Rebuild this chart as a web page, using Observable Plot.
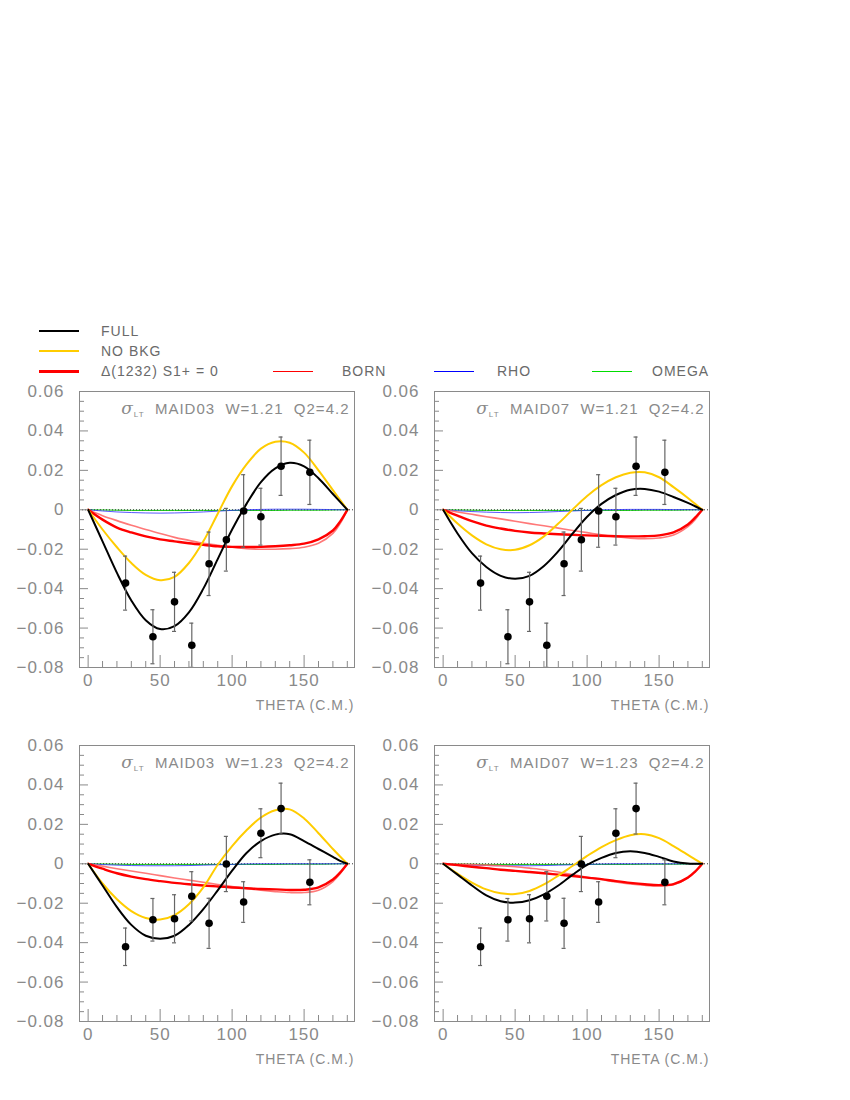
<!DOCTYPE html>
<html><head><meta charset="utf-8">
<script src="https://cdn.jsdelivr.net/npm/d3@7"></script>
<script src="https://cdn.jsdelivr.net/npm/@observablehq/plot@0.6"></script>
<style>
body{margin:0;background:#fff;width:850px;height:1100px;position:relative;font-family:"Liberation Sans",Arial,sans-serif;overflow:hidden;}
.panel{position:absolute;}
.panel svg text{letter-spacing:1px;white-space:pre;}
.lg-line{position:absolute;}
.lg-text{position:absolute;font-size:14px;letter-spacing:1px;color:#6a6a6a;line-height:16px;white-space:pre;}
</style></head><body>
<div id="legend"></div>
<script>
// ---------- data ----------
const theta = [0,10,20,30,40,50,60,70,80,90,100,110,120,130,140,150,160,170,175,180];

const full_03_121  = [0,-0.016,-0.032,-0.046,-0.056,-0.0605,-0.059,-0.052,-0.040,-0.025,-0.010,0.003,0.014,0.021,0.0238,0.022,0.016,0.008,0.004,0];
const nobkg_03_121 = [0,-0.010,-0.019,-0.027,-0.033,-0.0357,-0.034,-0.027,-0.016,-0.002,0.012,0.023,0.031,0.0345,0.034,0.029,0.020,0.010,0.005,0];
const delta_03_121 = [0,-0.005,-0.009,-0.0115,-0.0135,-0.015,-0.016,-0.017,-0.0178,-0.0185,-0.0188,-0.0189,-0.0188,-0.0185,-0.018,-0.0172,-0.015,-0.0105,-0.006,0];
const born_03_121  = [0,-0.003,-0.0055,-0.0078,-0.010,-0.012,-0.014,-0.0155,-0.017,-0.018,-0.019,-0.0198,-0.020,-0.020,-0.0197,-0.019,-0.017,-0.012,-0.007,0];
const rho_03_121   = [0,-0.0006,-0.0011,-0.0014,-0.0016,-0.0017,-0.0016,-0.0014,-0.0011,-0.0007,-0.0003,0,0.0002,0.0003,0.0003,0.0003,0.0002,0.0001,0,0];

const full_07_121  = [0,-0.012,-0.022,-0.029,-0.0335,-0.035,-0.0335,-0.0285,-0.021,-0.012,-0.0035,0.003,0.0075,0.0102,0.0106,0.0092,0.0065,0.0035,0.0018,0];
const nobkg_07_121 = [0,-0.007,-0.013,-0.0175,-0.020,-0.0203,-0.018,-0.0135,-0.007,0.0002,0.007,0.0125,0.0165,0.0188,0.019,0.0165,0.0115,0.006,0.003,0];
const delta_07_121 = [0,-0.003,-0.0058,-0.008,-0.0095,-0.0107,-0.0115,-0.012,-0.0124,-0.0127,-0.013,-0.0132,-0.0134,-0.0135,-0.0134,-0.013,-0.0115,-0.0075,-0.004,0];
const born_07_121  = [0,-0.0011,-0.0023,-0.0035,-0.0046,-0.0058,-0.007,-0.0081,-0.0093,-0.0105,-0.0116,-0.0127,-0.0137,-0.0144,-0.0147,-0.0143,-0.0128,-0.0085,-0.005,0];
const rho_07_121   = [0,-0.0005,-0.0009,-0.0012,-0.0014,-0.0015,-0.0014,-0.0012,-0.0009,-0.0006,-0.0003,0,0.0001,0.0002,0.0002,0.0002,0.0001,0.0001,0,0];

const full_03_123  = [0,-0.011,-0.022,-0.031,-0.0365,-0.038,-0.0365,-0.031,-0.023,-0.0135,-0.0035,0.0055,0.0115,0.0148,0.015,0.0115,0.0075,0.0035,0.0015,0];
const nobkg_03_123 = [0,-0.010,-0.018,-0.024,-0.0275,-0.0283,-0.026,-0.0205,-0.012,-0.0005,0.009,0.017,0.0235,0.0272,0.0276,0.023,0.0155,0.0075,0.0037,0];
const delta_03_123 = [0,-0.0025,-0.0048,-0.0065,-0.0078,-0.0088,-0.0097,-0.0104,-0.011,-0.0115,-0.012,-0.0124,-0.0128,-0.013,-0.0133,-0.0132,-0.012,-0.008,-0.0045,0];
const born_03_123  = [0,-0.0012,-0.0025,-0.0037,-0.0048,-0.006,-0.0072,-0.0083,-0.0094,-0.0105,-0.0115,-0.0125,-0.0134,-0.0141,-0.0146,-0.0146,-0.0134,-0.009,-0.005,0];
const rho_03_123   = [0,-0.0004,-0.0007,-0.0009,-0.001,-0.001,-0.001,-0.0009,-0.0007,-0.0005,-0.0003,-0.0001,0,0,0,0,0,0,0,0];

const full_07_123  = [0,-0.0055,-0.011,-0.016,-0.019,-0.0197,-0.0185,-0.0155,-0.011,-0.0055,-0.0005,0.003,0.0055,0.0063,0.0055,0.0035,0.0012,0.0001,0,0];
const nobkg_07_123 = [0,-0.005,-0.0095,-0.013,-0.015,-0.0153,-0.0138,-0.0105,-0.006,-0.001,0.004,0.0085,0.012,0.0145,0.015,0.013,0.009,0.0045,0.0022,0];
const delta_07_123 = [0,-0.0007,-0.0015,-0.0022,-0.003,-0.0036,-0.0042,-0.0048,-0.0055,-0.0062,-0.007,-0.0078,-0.0088,-0.0097,-0.0104,-0.0108,-0.0103,-0.007,-0.004,0];
const born_07_123  = [0,-0.0002,-0.0004,-0.0007,-0.001,-0.0015,-0.0022,-0.003,-0.0042,-0.0055,-0.0068,-0.008,-0.0092,-0.0102,-0.0109,-0.0112,-0.0106,-0.0072,-0.004,0];
const rho_07_123   = [0,-0.0004,-0.0007,-0.0009,-0.001,-0.001,-0.001,-0.0009,-0.0007,-0.0005,-0.0003,-0.0001,0,0,0,0,0,0,0,0];

const omega_all    = [0,-0.0001,-0.0002,-0.0003,-0.0003,-0.0003,-0.0003,-0.0003,-0.0003,-0.0003,-0.0003,-0.0003,-0.0003,-0.0003,-0.0002,-0.0002,-0.0002,-0.0001,0,0];

const thetaPts = [26,45,60,72,84,96,108,120,134,154];
const sigW121  = [-0.0372,-0.0644,-0.0467,-0.0687,-0.0274,-0.0152,-0.0006,-0.0035,0.0221,0.019];
const errW121  = [0.0137,0.0137,0.015,0.0112,0.0161,0.0159,0.0184,0.0144,0.0148,0.0163];
const sigW123  = [-0.0421,-0.0284,-0.0279,-0.0165,-0.0302,-0.0001,-0.0194,0.0155,0.028,-0.0094];
const errW123  = [0.0095,0.0108,0.0122,0.0125,0.0127,0.014,0.0103,0.0124,0.0129,0.0114];

const xLabelTicks = [0,50,100,150];
const yLabelTicks = [-0.08,-0.06,-0.04,-0.02,0,0.02,0.04,0.06];
const panelTitles = ["MAID03  W=1.21  Q2=4.2","MAID07  W=1.21  Q2=4.2","MAID03  W=1.23  Q2=4.2","MAID07  W=1.23  Q2=4.2"];
const xTitle = "THETA (C.M.)";
const legendLabels = ["FULL","NO BKG","\u0394(1232) S1+ = 0","BORN","RHO","OMEGA"];

// ---------- drawing ----------
const xMinor = d3.range(0, 181, 10).filter(v => v % 50 !== 0);
const yMinor = d3.range(-80, 61, 5).filter(v => v % 20 !== 0).map(v => v / 1000);

function panel(title, model, pts, errs, left, top) {
  const W = 360, H = 345, mL = 79, mR = 6, mT = 11, mB = 58;
  const fh = H - mT - mB, fw = W - mL - mR;
  const gray = "#8a8a8a";
  const line = (vals, stroke, sw, extra = {}) =>
    Plot.line(theta, {x: d => d, y: (d, i) => vals[i], stroke, strokeWidth: sw, curve: "catmull-rom", ...extra});
  const svg = Plot.plot({
    width: W, height: H, marginLeft: mL, marginRight: mR, marginTop: mT, marginBottom: mB,
    x: {domain: [-6, 185], axis: null},
    y: {domain: [-0.08, 0.06], axis: null},
    style: {background: "transparent", fontFamily: "'Liberation Sans', Arial, sans-serif", overflow: "visible"},
    marks: [
      line(omega_all, "#00c800", 1),
      Plot.ruleY([0], {stroke: "#333", strokeWidth: 1, strokeDasharray: "1,2"}),
      line(model.rho, "#3030ff", 1, {strokeOpacity: 0.8}),
      line(model.born, "#ff6060", 1.6, {strokeOpacity: 0.85}),
      line(model.delta, "#ff0000", 2.4),
      line(model.nobkg, "#ffcc00", 2),
      line(model.full, "#000000", 2),
      Plot.ruleX(thetaPts, {x: d => d, y1: (d, i) => pts[i] - errs[i], y2: (d, i) => pts[i] + errs[i], stroke: "#666", strokeWidth: 1.2, clip: true}),
      Plot.ruleY(thetaPts, {y: (d, i) => pts[i] + errs[i], x1: d => d - 1.4, x2: d => d + 1.4, stroke: "#666", strokeWidth: 1.2}),
      Plot.ruleY(thetaPts, {y: (d, i) => pts[i] - errs[i], x1: d => d - 1.4, x2: d => d + 1.4, stroke: "#666", strokeWidth: 1.2, clip: true}),
      Plot.dot(thetaPts, {x: d => d, y: (d, i) => pts[i], r: 3.8, fill: "#000", stroke: "none"}),
      Plot.frame({stroke: gray, strokeWidth: 1}),
      Plot.ruleX(xMinor, {x: d => d, insetTop: fh - 6, stroke: gray}),
      Plot.ruleX(xLabelTicks, {x: d => d, insetTop: fh - 12, stroke: gray}),
      Plot.ruleY(yMinor, {y: d => d, insetRight: fw - 5, stroke: gray}),
      Plot.ruleY(yLabelTicks, {y: d => d, insetRight: fw - 9, stroke: gray}),
      Plot.text(xLabelTicks, {x: d => d, text: d => String(d), frameAnchor: "bottom", dy: 18, fontSize: 17, fill: gray}),
      Plot.text(yLabelTicks, {y: d => d, text: d => d === 0 ? "0" : (d < 0 ? "\u2212" : "") + Math.abs(d).toFixed(2), frameAnchor: "left", dx: -15, textAnchor: "end", fontSize: 17, fill: gray}),
      Plot.text([xTitle], {text: d => d, frameAnchor: "bottom-right", dy: 42, dx: 0, textAnchor: "end", fontSize: 14, fill: gray}),
      Plot.text([title], {text: d => d, frameAnchor: "top-right", dx: -5, dy: 12, textAnchor: "end", fontSize: 15, fill: gray})
    ]
  });
  // add sigma_LT prefix to title
  d3.select(svg).selectAll("text").filter(function() { return this.textContent === title; }).each(function() {
    const t = d3.select(this);
    t.text(null);
    t.append("tspan").attr("font-style", "italic").attr("font-size", 17).attr("font-family", "'DejaVu Serif', serif").text("\u03c3");
    t.append("tspan").attr("font-size", 8).attr("dy", 3).text("LT");
    t.append("tspan").attr("dy", -3).text("  " + title);
  });
  const div = document.createElement("div");
  div.className = "panel";
  div.style.left = left + "px";
  div.style.top = top + "px";
  div.appendChild(svg);
  document.body.appendChild(div);
}

panel(panelTitles[0], {full: full_03_121, nobkg: nobkg_03_121, delta: delta_03_121, born: born_03_121, rho: rho_03_121}, sigW121, errW121, 0, 380);
panel(panelTitles[1], {full: full_07_121, nobkg: nobkg_07_121, delta: delta_07_121, born: born_07_121, rho: rho_07_121}, sigW121, errW121, 355, 380);
panel(panelTitles[2], {full: full_03_123, nobkg: nobkg_03_123, delta: delta_03_123, born: born_03_123, rho: rho_03_123}, sigW123, errW123, 0, 734);
panel(panelTitles[3], {full: full_07_123, nobkg: nobkg_07_123, delta: delta_07_123, born: born_07_123, rho: rho_07_123}, sigW123, errW123, 355, 734);

// ---------- legend ----------
const legendItems = [
  {label: legendLabels[0], color: "#000", w: 2, x1: 39, x2: 79, tx: 101, y: 331},
  {label: legendLabels[1], color: "#ffcc00", w: 2, x1: 39, x2: 79, tx: 101, y: 351},
  {label: legendLabels[2], color: "#ff0000", w: 3, x1: 39, x2: 79, tx: 101, y: 371},
  {label: legendLabels[3], color: "#ff0000", w: 1, x1: 273, x2: 313, tx: 342, y: 371},
  {label: legendLabels[4], color: "#0000ff", w: 1, x1: 434, x2: 474, tx: 497, y: 371},
  {label: legendLabels[5], color: "#00dd00", w: 1, x1: 592, x2: 632, tx: 652, y: 371}
];
const lg = document.getElementById("legend");
for (const it of legendItems) {
  const l = document.createElement("div");
  l.className = "lg-line";
  l.style.left = it.x1 + "px";
  l.style.width = (it.x2 - it.x1) + "px";
  l.style.top = Math.round(it.y - it.w / 2) + "px";
  l.style.height = it.w + "px";
  l.style.background = it.color;
  lg.appendChild(l);
  const t = document.createElement("div");
  t.className = "lg-text";
  t.style.left = it.tx + "px";
  t.style.top = (it.y - 8) + "px";
  t.textContent = it.label;
  lg.appendChild(t);
}
</script>
</body></html>
